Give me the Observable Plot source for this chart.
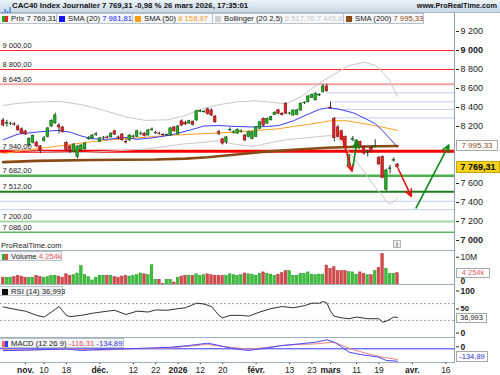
<!DOCTYPE html>
<html lang="fr">
<head>
<meta charset="utf-8">
<script src="https://cdn.jsdelivr.net/npm/d3@7"></script>
<script src="https://cdn.jsdelivr.net/npm/@observablehq/plot@0.6"></script>
<style>
html,body{margin:0;padding:0;background:#fff;}
#chart{position:relative;width:500px;height:375px;overflow:hidden;background:#fff;font-family:"Liberation Sans",Arial,sans-serif;color:#1a1a1a;}
#chart > div{position:absolute;}
.lg{top:13px;height:11px;line-height:10px;font-size:7.7px;background:#f6f7f8;border:1px solid #b7c2ca;border-left:none;white-space:nowrap;padding-left:11px;box-sizing:border-box;}
.sw{position:absolute;left:2px;top:1.5px;width:6px;height:6px;}
.pl{left:0;height:10px;line-height:10px;font-size:7.7px;background:#f2f4f6;border:1px solid #b7c2ca;border-left:none;padding:0 3px 0 11px;white-space:nowrap;box-sizing:border-box;}
.vb{left:456px;height:11px;line-height:9px;font-size:8px;text-align:center;background:#fff;border:1px solid #a8a8a8;box-sizing:border-box;}
</style>
</head>
<body>
<div id="chart"></div>
<script>
// ---------------- DATA ----------------
// trading-day index: 0 = 3 nov. 2025; first candle index -6 (24 oct. 2025)
const firstIndex = -6;
const opens = [8263,8230,8226,8222,8200,8170,8148,8000,8030,8030,
  7990,8050,8090,8200,8232,8210,8190,8025,7990,7930,
  7880,7950,7960,8065,8075,8110,8035,8078,8085,8085,
  8150,8085,8115,8038,8053,8088,8090,8120,8125,8105,
  8160,8128,8125,8112,8108,8105,8190,8115,8255,8240,
  8230,8250,8263,8355,8350,8380,8370,8305,8140,8065,
  8035,8160,8135,8125,8145,8105,8090,8070,8090,8175,
  8280,8230,8265,8320,8370,8335,8440,8335,8316,8320,
  8368,8445,8455,8500,8475,8526,8560,8620,8400,8280,
  8190,8150,8090,7790,8060,7985,8035,7985,7925,7975,
  7985,7870,7877,7535,7750,7840,7800];
const highs = [8285,8265,8245,8240,8215,8185,8160,8080,8110,8045,
  8000,8095,8190,8270,8340,8230,8200,8040,8000,8020,
  8000,8010,8030,8095,8115,8135,8085,8095,8100,8135,
  8160,8100,8125,8065,8115,8110,8160,8145,8135,8170,
  8185,8150,8140,8125,8122,8190,8200,8210,8270,8255,
  8265,8260,8370,8375,8370,8395,8385,8315,8160,8075,
  8095,8185,8155,8175,8165,8115,8150,8150,8200,8255,
  8290,8290,8305,8355,8380,8345,8450,8350,8375,8380,
  8450,8460,8525,8540,8555,8545,8642,8645,8456,8295,
  8210,8160,8100,7905,8095,8060,8045,7995,7950,7990,
  8060,7885,7890,7750,7790,7870,7810];
const lows = [8195,8195,8210,8205,8150,8115,8105,7985,8015,7980,
  7915,8035,8080,8190,8225,8120,8130,7945,7915,7925,
  7860,7935,7950,8055,8065,8095,8030,8060,8070,8080,
  8105,8060,8045,8015,8045,8075,8085,8105,8090,8100,
  8150,8115,8110,8100,8098,8100,8140,8110,8200,8210,
  8225,8205,8255,8345,8340,8320,8305,8235,8105,8005,
  8010,8145,8120,8120,8130,8040,8080,8060,8085,8170,
  8200,8225,8260,8315,8325,8310,8325,8320,8310,8315,
  8360,8430,8450,8495,8470,8515,8555,8560,8385,8040,
  8080,8050,7975,7770,8040,7975,7990,7900,7880,7920,
  7975,7790,7650,7519,7700,7825,7760];
const closes = [8211,8238,8230,8218,8160,8128,8116,8070,8100,7990,
  7947,8075,8180,8260,8316,8190,8140,7955,7940,8010,
  7990,8000,8020,8075,8105,8118,8075,8082,8078,8125,
  8115,8078,8055,8032,8105,8095,8150,8125,8100,8158,
  8168,8132,8120,8108,8112,8180,8150,8200,8210,8222,
  8255,8215,8360,8362,8352,8330,8316,8245,8120,8020,
  8085,8165,8140,8165,8150,8053,8140,8140,8190,8245,
  8210,8280,8300,8345,8335,8320,8335,8338,8368,8370,
  8440,8448,8516,8530,8545,8530,8621,8572,8390,8080,
  8090,8060,7985,7895,8070,8053,8000,7915,7935,7930,
  7995,7800,7660,7737,7760,7846,7769.31];
// volume in millions
const volumes = [2.6,2.6,2.6,2.8,3.3,3.0,2.6,2.6,2.6,3.3,
  2.8,2.6,2.8,3.3,3.3,3.0,2.6,3.8,3.3,3.5,
  4.1,6.8,3.5,2.8,1.6,2.6,3.3,3.3,3.3,3.3,
  2.8,2.6,3.0,3.3,3.0,3.3,3.5,4.1,3.8,3.5,
  7.1,1.85,1.85,0.4,1.85,1.85,0.85,2.6,3.0,3.3,
  3.3,3.3,3.8,3.3,3.5,3.8,3.5,3.3,3.3,3.3,
  3.3,3.8,3.5,3.3,3.5,4.1,3.8,3.7,3.3,4.0,
  4.5,4.0,3.7,3.3,3.7,4.2,5.0,5.0,3.3,3.3,
  4.0,4.0,4.5,3.7,3.5,3.7,3.7,7.0,5.8,6.4,
  5.0,5.0,5.0,4.6,4.5,3.7,4.5,4.0,3.5,3.5,
  5.0,6.2,11.2,5.8,4.0,4.0,4.254];

const sma20Idx = [-6,-2,4,9,12,15,18,22,27,30,34,39,44,48,52,57,61,65,68,72,76,79,81,84,88,91,94,96,98,100];
const sma20Val = [8060,8120,8145,8160,8140,8100,8070,8065,8085,8065,8080,8110,8160,8205,8210,8200,8195,8200,8210,8260,8330,8380,8395,8385,8345,8290,8230,8155,8070,7981.81];
const sma50Idx = [-6,0,7,12,17,21,30,38,47,56,61,68,72,77,82,86,91,96,100];
const sma50Val = [7915,7950,7985,8010,8035,8053,8080,8105,8123,8140,8155,8176,8200,8228,8260,8262,8230,8193,8158.97];
const sma200Idx = [-6,3,18,35,43,49,56,63,72,81,91,100];
const sma200Val = [7825,7838,7848,7852,7862,7877,7902,7930,7955,7976,7990,7995.33];
const bollUpIdx = [-6,-3,2,9,15,21,27,32,38,43,47,52,57,62,66,70,74,77,80,83,87,91,94,96,98,100];
const bollUpVal = [8420,8440,8456,8465,8430,8370,8300,8265,8270,8316,8380,8430,8460,8470,8455,8440,8510,8600,8680,8750,8842,8875,8845,8772,8680,8517.76];
const bollLoIdx = [-6,0,5,10,15,20,27,33,38,42,47,52,56,61,66,70,74,79,82,84,87,90,94,96,97,98,99,100];
const bollLoVal = [7960,7945,7935,7930,7925,7935,7950,7965,7990,8015,8030,8050,8015,7990,8030,8060,8075,8095,8105,8070,7930,7780,7560,7470,7410,7385,7410,7445.87];

const rsiIdx = [-6,-2,0,3,5,7,9,11,12,15,18,22,24,27,30,33,35,38,41,43,46,48,50,52,53,55,58,60,63,66,69,72,75,77,79,80,81,82,83,85,87,89,92,95,96,97,99,100];
const rsiVal = [62,55,52,42,38,50,63,42,39,42,47,52,54,44,52,50,55,54,58,60,71,69,63,42,36,42,42,40,50,58,63,60,65,71,71,75,72,52,40,36,34,38,34,34,26,28,38,36.993];

const macdIdx = [-6,0,5,11,15,20,23,29,34,39,44,49,52,56,60,65,69,74,78,81,83,85,87,90,95,97,100];
const macdVal = [-20,-15,-8,-2,-18,-8,-4,3,9,17,36,61,36,0,-18,10,36,55,72,98,72,20,-37,-62,-91,-127,-134.89];
const signalIdx = [-6,0,5,11,15,20,29,39,47,49,52,56,60,65,69,74,78,83,87,92,96,100];
const signalVal = [-10,-12,-10,3,-8,-13,0,9,41,47,30,14,-4,15,36,48,54,72,5,-54,-91,-116.31];

// horizontal levels
const levelPrices = [9000, 8800, 8645, 7940, 7682, 7512, 7200, 7086];
const guideTopPrices = [8555, 8460, 8380, 8290];
const guideTopStart = [81, 82, 83, 83];
const guideBottomPrices = [7411, 7326];

// drawn arrows
const arrowFromIdx = [84.8, 88.1, 100.2, 105];
const arrowFromVal = [8130, 7790, 7755, 7344];
const arrowToIdx = [87.8, 89.1, 103.7, 113.8];
const arrowToVal = [7730, 8045, 7465, 8005];
const arrowDir = ["down", "up", "down", "up"];

// x-axis ticks
const xTickIdx = [0,5,11,20,29,35,41,47,53,62,71,77,82,89,95,104,113];
const xTickLab = ["nov.","10","18","déc.","12","22","2026","12","20","févr.","13","23","mars","11","19","avr.","16"];

// visible price-axis labels (8 000 and 7 800 are hidden by value boxes in the reference)
const priceTicks = [7000,7200,7400,7600,8200,8400,8600,8800,9000,9200];
const rsiTicks = [100, 50, 0];
const titleName = "CAC40 Index Journalier";
const titleStamp = "26 mars 2026, 17:35:01";

// ---------------- STYLES / LAYOUT ----------------
const FONT = '"Liberation Sans", Arial, sans-serif';
const fr = d3.formatLocale({decimal: ",", thousands: "\u00a0", grouping: [3], currency: ["", ""], minus: "-"});
const f2 = fr.format(",.2f"), f0 = fr.format(",.0f"), f3 = fr.format(",.3f");

const X = {domain: [-6.72, 115.59], range: [0, 455]};
const PRICE_Y = {domain: [7000, 9200], range: [240, 31]};
const VOL_Y = {domain: [0, 10], range: [33.3, 5.7]};
const RSI_Y = {domain: [0, 100], range: [47.5, 5.5]};
const MACD_Y = {domain: [-149, 123], range: [25, 0]};

const levelStyle = [
  {stroke: "#ff2a2a", w: 1}, {stroke: "#ff2a2a", w: 1}, {stroke: "#f4a3a3", w: 2},
  {stroke: "#ff0000", w: 3}, {stroke: "#4cae4c", w: 2.5}, {stroke: "#1f7a1f", w: 2},
  {stroke: "#a6d8a6", w: 2}, {stroke: "#5cb85c", w: 1.5}];

const UP = "#22ad22", UPS = "#0f5f0f", DN = "#e3262a", DNS = "#7e1010";

const candles = opens.map((o, k) => ({i: firstIndex + k, open: o, high: highs[k], low: lows[k], close: closes[k], vol: volumes[k]}));
const pts = (idx, val) => idx.map((x, k) => ({x, y: val[k]}));
const levels = levelPrices.map((p, k) => ({p, ...levelStyle[k]}));
const arrows = arrowFromIdx.map((x1, k) => ({x1, y1: arrowFromVal[k], x2: arrowToIdx[k], y2: arrowToVal[k], c: arrowDir[k] === "up" ? "#0a8a12" : "#e81010"}));

const baseStyle = {background: "transparent", overflow: "visible", fontFamily: FONT, color: "#222"};

// ---------------- PRICE PANEL ----------------
const pricePlot = Plot.plot({
  width: 500, height: 251, marginLeft: 0, marginRight: 45, marginTop: 0, marginBottom: 0,
  x: {...X, axis: null},
  y: PRICE_Y,
  style: baseStyle,
  marks: [
    Plot.ruleY(guideTopPrices.map((p, k) => ({p, s: guideTopStart[k]})), {y: "p", x1: "s", x2: X.domain[1], stroke: "#c3cdf0", strokeWidth: 1}),
    Plot.ruleY(guideBottomPrices, {y: d => d, stroke: "#cdd6f2", strokeWidth: 1.3}),
    ...levels.map(l => Plot.ruleY([l.p], {stroke: l.stroke, strokeWidth: l.w})),
    Plot.line(pts(bollUpIdx, bollUpVal), {x: "x", y: "y", stroke: "#c8c8c8", strokeWidth: 1}),
    Plot.line(pts(bollLoIdx, bollLoVal), {x: "x", y: "y", stroke: "#c8c8c8", strokeWidth: 1}),
    Plot.line(pts(sma50Idx, sma50Val), {x: "x", y: "y", stroke: "#ffa11f", strokeWidth: 1}),
    Plot.line(pts(sma20Idx, sma20Val), {x: "x", y: "y", stroke: "#3b3bff", strokeWidth: 1}),
    Plot.line(pts(sma200Idx, sma200Val), {x: "x", y: "y", stroke: "#8a4a14", strokeWidth: 2.6}),
    Plot.ruleX(candles, {x: "i", y1: "low", y2: "high", stroke: "#1a1a1a", strokeWidth: 0.9}),
    Plot.rect(candles, {x1: d => d.i - 0.34, x2: d => d.i + 0.34, y1: "open", y2: "close",
      fill: d => d.close >= d.open ? UP : DN, stroke: d => d.close >= d.open ? UPS : DNS, strokeWidth: 0.6}),
    Plot.text(levelPrices, {y: d => d, text: d => f2(d), frameAnchor: "left", textAnchor: "start", dx: 2, dy: -5, fontSize: 7.5, fill: "#222"}),
    Plot.arrow(arrows, {x1: "x1", y1: "y1", x2: "x2", y2: "y2", stroke: "c", strokeWidth: 1.6, headLength: 7, headAngle: 50}),
    Plot.axisY({anchor: "right", ticks: priceTicks.filter(v => v % 1000 !== 0), tickFormat: f0, tickSize: 3, tickPadding: 2, fontSize: 9, label: null}),
    Plot.axisY({anchor: "right", ticks: priceTicks.filter(v => v % 1000 === 0), tickFormat: f0, tickSize: 3, tickPadding: 2, fontSize: 9, fontWeight: "bold", label: null})
  ]
});

// ---------------- VOLUME PANEL ----------------
const volPlot = Plot.plot({
  width: 500, height: 34, marginLeft: 0, marginRight: 45, marginTop: 0, marginBottom: 0,
  x: {...X, axis: null}, y: VOL_Y, style: baseStyle,
  marks: [
    Plot.rect(candles, {x1: d => d.i - 0.36, x2: d => d.i + 0.36, y1: 0, y2: "vol",
      fill: d => d.close >= d.open ? "#3cc13c" : "#d9474a", stroke: d => d.close >= d.open ? "#1f8f1f" : "#a83236", strokeWidth: 0.4}),
    Plot.axisY({anchor: "right", ticks: [10], tickFormat: d => d + "M", tickSize: 3, tickPadding: 2, fontSize: 8.5, label: null}),
    Plot.axisY({anchor: "right", ticks: [0], tickFormat: d => "0", tickSize: 0, tickPadding: 5, dy: -4, fontSize: 8.5, fontWeight: "bold", label: null})
  ]
});

// ---------------- RSI PANEL ----------------
const rsiPlot = Plot.plot({
  width: 500, height: 52, marginLeft: 0, marginRight: 45, marginTop: 0, marginBottom: 0,
  x: {...X, axis: null}, y: RSI_Y, style: baseStyle,
  marks: [
    Plot.ruleY([70, 30], {stroke: "#a0a0a0", strokeDasharray: "2,2"}),
    Plot.line(pts(rsiIdx, rsiVal), {x: "x", y: "y", stroke: "#1a1a1a", strokeWidth: 0.9}),
    Plot.axisY({anchor: "right", ticks: rsiTicks.filter(v => v !== 50), tickFormat: d => String(d), tickSize: 3, tickPadding: 2, fontSize: 8.5, fontWeight: "bold", label: null}),
    Plot.axisY({anchor: "right", ticks: rsiTicks.filter(v => v === 50), tickFormat: d => String(d), tickSize: 3, tickPadding: 2, dy: -3, fontSize: 7.5, fontWeight: "bold", label: null})
  ]
});

// ---------------- MACD PANEL + X AXIS ----------------
const labOf = d => xTickLab[xTickIdx.indexOf(d)];
const isBold = lab => isNaN(+lab) || lab.length === 4;
const macdPlot = Plot.plot({
  width: 500, height: 38, marginLeft: 0, marginRight: 45, marginTop: 0, marginBottom: 13,
  x: X, y: MACD_Y, style: baseStyle,
  marks: [
    Plot.ruleY([0], {stroke: "#3535ff", strokeWidth: 1}),
    Plot.line(pts(signalIdx, signalVal), {x: "x", y: "y", stroke: "#f08080", strokeWidth: 1}),
    Plot.line(pts(macdIdx, macdVal), {x: "x", y: "y", stroke: "#4646ff", strokeWidth: 1}),
    Plot.axisY({anchor: "right", ticks: [0], tickFormat: d => "0", tickSize: 3, tickPadding: 2, dy: -2, fontSize: 8.5, fontWeight: "bold", label: null}),
    Plot.axisX({ticks: xTickIdx.filter(d => isBold(labOf(d))), tickFormat: labOf, tickSize: 2, tickPadding: 2, fontSize: 8.5, fontWeight: "bold", label: null}),
    Plot.axisX({ticks: xTickIdx.filter(d => !isBold(labOf(d))), tickFormat: labOf, tickSize: 2, tickPadding: 2, fontSize: 8.5, label: null})
  ]
});

// ---------------- ASSEMBLY ----------------
const chart = document.getElementById("chart");
function place(node, top) {
  const d = document.createElement("div");
  d.style.left = "0px"; d.style.top = top + "px"; d.style.width = "500px";
  d.appendChild(node); chart.appendChild(d); return d;
}
place(pricePlot, 0);
place(volPlot, 251);
place(rsiPlot, 285);
place(macdPlot, 337);

function div(css, html) {
  const d = document.createElement("div");
  d.style.cssText = css; if (html !== undefined) d.innerHTML = html;
  chart.appendChild(d); return d;
}
// separators and right axis line
[250, 284, 337, 362].forEach(y => div(`left:0;top:${y}px;width:455px;height:1px;background:#9eb0be`));
div("left:454px;top:13px;width:1px;height:350px;background:#8fa2b2");

// title bar
const last = closes[closes.length - 1], prev = closes[closes.length - 2];
const chg = fr.format(",.2f")((last / prev - 1) * 100);
div("left:0;top:0;width:500px;height:13px;background:linear-gradient(#edf3f9,#c7d8e7);border-bottom:1px solid #a7b9c8;box-sizing:border-box");
div("left:2px;top:2px;width:9px;height:9px",
  '<svg width="9" height="9"><rect x="0" y="5" width="1.3" height="4" fill="#3d7be0"/><rect x="2.5" y="2" width="1.3" height="7" fill="#3d7be0"/><rect x="5" y="4" width="1.3" height="5" fill="#3d7be0"/><rect x="7.5" y="0" width="1.3" height="9" fill="#3d7be0"/></svg>');
div("left:12px;top:0;height:13px;line-height:12px;font-size:7.8px;font-weight:bold;white-space:nowrap;color:#111",
  `${titleName} ${f2(last)} ${chg} % ${titleStamp}`);
div("right:3px;top:0;height:13px;line-height:12px;font-size:7.3px;font-weight:bold;white-space:nowrap;color:#111", "www.ProRealTime.com");

// legend row
const lg = [
  {l: 0, w: 57, sw: "linear-gradient(90deg,#1fa81f 50%,#e22 50%)", t: `Prix ${f2(last)}`},
  {l: 57, w: 76, sw: "#1414ff", t: `SMA (20) <span style="color:#2323ff">${f2(sma20Val.at(-1))}</span>`},
  {l: 133, w: 80, sw: "#ff9a1a", t: `SMA (50) <span style="color:#f59a20">${f2(sma50Val.at(-1))}</span>`},
  {l: 213, w: 131, sw: "#cfcfcf", t: `Bollinger (20 2,5) <span style="color:#c9c9c9">${f2(bollUpVal.at(-1))} ${f2(bollLoVal.at(-1))}</span>`},
  {l: 344, w: 80, sw: "#8a4a14", t: `SMA (200) <span style="color:#8a4a14">${f2(sma200Val.at(-1))}</span>`}
];
lg.forEach(o => {
  const d = div(`left:${o.l}px;width:${o.w}px`, `<span class="sw" style="background:${o.sw}"></span>${o.t}`);
  d.className = "lg";
});

// panel labels
const vLast = volumes.at(-1);
let d;
d = div("top:251px;width:62px", `<span class="sw" style="background:linear-gradient(90deg,#2cb52c 50%,#e24b4b 50%);top:1.5px"></span>Volume <span style="color:#e66">${f0(vLast * 1000)}k</span>`); d.className = "pl";
d = div("top:286px;width:63px", `<span class="sw" style="background:#111;top:1.5px"></span>RSI (14) ${f3(rsiVal.at(-1))}`); d.className = "pl";
d = div("top:338px;width:124px", `<span class="sw" style="background:linear-gradient(90deg,#f06868 50%,#3a3aff 50%);top:1.5px"></span>MACD (12 26 9) <span style="color:#e55">${f2(signalVal.at(-1))}</span> <span style="color:#3333dd">${f2(macdVal.at(-1))}</span>`); d.className = "pl";

// ProRealTime watermark and info icon
div("left:1px;top:241px;font-size:7.6px;color:#222;white-space:nowrap", "ProRealTime.com");
div("left:393px;top:240px;width:8px;height:8px;border:1px solid #b5b5b5;background:#eee;font-size:7px;line-height:8px;text-align:center;color:#777;box-sizing:border-box;font-weight:bold", "i");

// right value boxes (positions from the same scales)
const yP = d3.scaleLinear(PRICE_Y.domain, PRICE_Y.range);
const yV = d3.scaleLinear(VOL_Y.domain, VOL_Y.range);
const yR = d3.scaleLinear(RSI_Y.domain, RSI_Y.range);
const yM = d3.scaleLinear(MACD_Y.domain, MACD_Y.range);
function vbox(cy, h, w, text, css) {
  const b = div(`top:${(cy - h / 2).toFixed(1)}px;height:${h}px;line-height:${h - 2}px;width:${w}px;${css}`, text);
  b.className = "vb"; return b;
}
vbox(yP(sma200Val.at(-1)), 11, 42, f2(sma200Val.at(-1)), "color:#8a4a14");
vbox(yP(last), 12, 44, f2(last), "background:#f6d21c;border-color:#c9a50c;font-weight:bold;font-size:9px;color:#000");
vbox(251 + yV(vLast), 10, 34, `${f0(vLast * 1000)}k`, "color:#e05a5a;font-size:7.5px");
vbox(285 + yR(rsiVal.at(-1)) + 1, 10, 31, f3(rsiVal.at(-1)), "color:#222;font-size:7.5px");
vbox(Math.min(337 + yM(macdVal.at(-1)), 356.5), 11, 32, f2(macdVal.at(-1)), "color:#3030d8;font-size:7.5px");
</script>
</body>
</html>
